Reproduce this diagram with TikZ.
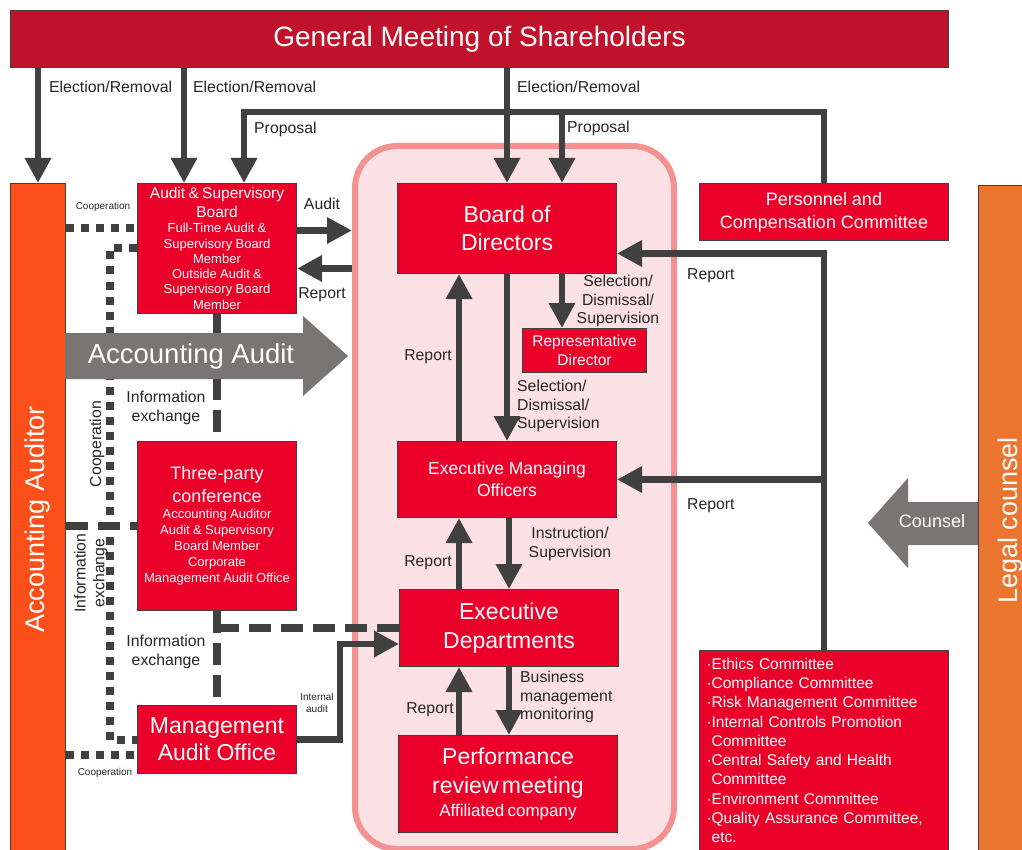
\documentclass[tikz,border=0pt]{standalone}
\usepackage{fontspec}
\setmainfont{Liberation Sans}
\usetikzlibrary{arrows.meta}

\definecolor{boxred}{RGB}{234,0,41}
\definecolor{gmsred}{RGB}{193,18,44}
\definecolor{aaorange}{RGB}{252,79,26}
\definecolor{lcorange}{RGB}{235,116,47}
\definecolor{arrowgray}{RGB}{122,117,117}
\definecolor{linegray}{RGB}{64,64,64}
\definecolor{pinkfill}{RGB}{251,224,228}
\definecolor{pinkline}{RGB}{244,145,145}

\newcommand\fsz[2]{\fontsize{#1}{#2}\selectfont}

\tikzset{
  box/.style={draw=black!75, line width=1pt, fill=boxred, text=white, align=center, inner sep=2pt, anchor=north west},
  panel/.style={draw=pinkline, fill=pinkfill, line width=6pt, rounded corners=42pt, inner sep=0pt, anchor=north west},
  arr/.style={draw=linegray, line width=6.5pt, -{Triangle[width=25pt,length=25pt]}},
  infoline/.style={draw=linegray, line width=8pt, dash pattern=on 22pt off 10pt},
  coopline/.style={draw=linegray, line width=8pt, dash pattern=on 8pt off 7pt},
  lbl/.style={font=\fsz{15.8}{18.8}, text=black!85, inner sep=1pt, align=center},
  tinylbl/.style={font=\fsz{10}{12.5}, text=black!85, inner sep=1pt, align=center}
}

\begin{document}
\begin{tikzpicture}[x=1pt,y=-1pt]
  \useasboundingbox (0,0) rectangle (1022,850);
  \fill[white] (0,0) rectangle (1022,850);

  \node[panel, minimum width=319pt, minimum height=703pt] (group) at (352,143) {};

  \node[box, fill=gmsred, minimum width=938pt, minimum height=57pt, font=\fsz{28}{32}] (gms) at (10,10) {General Meeting of Shareholders};
  \node[box, fill=aaorange, minimum width=55pt, minimum height=672pt, font=\fsz{27}{32}] (aa) at (10,183) {\rotatebox{90}{Accounting Auditor}};
  \node[box, fill=lcorange, minimum width=64pt, minimum height=670pt, font=\fsz{27}{32}] (lc) at (978,185) {\rotatebox{90}{Legal counsel}};

  \node[box, text width=155pt, minimum height=130pt, inner ysep=0pt] (asb) at (137,183)
    {{\fsz{15.5}{18.5}Audit \& Supervisory\\Board\par}{\fsz{13}{15.3}Full-Time Audit \&\\Supervisory Board\\Member\\Outside Audit \&\\Supervisory Board\\Member\par}};
  \node[box, text width=155pt, minimum height=169pt] (tpc) at (137,441)
    {{\fsz{18}{23}Three-party\\conference\par}{\fsz{13}{16}Accounting Auditor\\Audit \& Supervisory\\Board Member\\Corporate\\Management Audit Office\par}};
  \node[box, minimum width=159pt, minimum height=68pt, font=\fsz{23}{27}] (mao) at (137,705) {Management\\Audit Office};

  \node[box, minimum width=219pt, minimum height=90pt, font=\fsz{23}{28}] (bod) at (397,183) {Board of\\Directors};
  \node[box, minimum width=124pt, minimum height=44pt, font=\fsz{15.5}{19}] (rep) at (522,328) {Representative\\Director};
  \node[box, minimum width=219pt, minimum height=76pt, font=\fsz{17.5}{22}] (emo) at (397,441) {Executive Managing\\Officers};
  \node[box, minimum width=219pt, minimum height=77pt, font=\fsz{23}{29}] (exd) at (399,589) {Executive\\Departments};
  \node[box, text width=215pt, minimum height=97pt] (prm) at (398,735)
    {{\fsz{23}{29}Performance\\review meeting\par}{\fsz{17}{23}Affiliated company\par}};

  \node[box, minimum width=249pt, minimum height=57pt, font=\fsz{18}{23}] (pcc) at (699,183) {Personnel and\\Compensation Committee};
  \node[box, text width=235pt, inner xsep=7pt, minimum height=200pt, align=left, font=\fsz{15.5}{19.3}] (com) at (699,650)
    {·Ethics Committee\\·Compliance Committee\\·Risk Management Committee\\·Internal Controls Promotion\\\phantom{·}Committee\\·Central Safety and Health\\\phantom{·}Committee\\·Environment Committee\\·Quality Assurance Committee,\\\phantom{·}etc.};

  \coordinate (coopa) at ([yshift=20pt]asb.west);
  \coordinate (coopb) at ([yshift=-15pt]mao.west);
  \coordinate (coopx) at (110,0);
  \draw[coopline] (aa.east |- coopa) -- (coopa);
  \draw[coopline] (asb.west) -| (coopx |- mao.west) -- (mao.west);
  \draw[coopline] (aa.east |- coopb) -- (coopb);
  \draw[infoline] (aa.east |- tpc.west) -- (tpc.west);
  \draw[infoline] (asb.south) -- (tpc.north);
  \draw[infoline] (tpc.south) -- (mao.north);
  \draw[infoline] (tpc.south |- exd.west) -- (exd.west);

  \fill[arrowgray] (65,333) -- (303,333) -- (303,316) -- (348,356) -- (303,396) -- (303,379) -- (65,379) -- cycle;
  \node[font=\fsz{27.5}{32}, text=white] (accaudit) at (191,356) {Accounting Audit};
  \fill[arrowgray] (978,502) -- (908,502) -- (908,478) -- (868,523) -- (908,568) -- (908,545) -- (978,545) -- cycle;
  \node[font=\fsz{18}{22}, text=white] (counsel) at (932,521) {Counsel};

  \coordinate (asbin) at ([xshift=-33pt]asb.north);
  \coordinate (prop) at (244,112);
  \coordinate (prop2) at (562,112);
  \draw[arr] (gms.south -| aa.north) -- (aa.north);
  \draw[arr] (gms.south -| asbin) -- (asbin);
  \draw[arr] (gms.south -| bod.north) -- (bod.north);
  \draw[arr] (pcc.north) |- (prop) -- (prop |- asb.north);
  \draw[arr] (prop2) -- (prop2 |- bod.north);

  \coordinate (auy) at ([yshift=18pt]asb.east);
  \coordinate (rpy) at ([yshift=-20pt]asb.east);
  \draw[arr] (auy) -- (auy -| group.west);
  \draw[arr] (rpy -| group.west) -- (rpy);

  \coordinate (iax) at (340,0);
  \coordinate (iain) at ([yshift=-16pt]exd.west);
  \draw[arr] (mao.east) -| (iax |- iain) -- (iain);

  \coordinate (bodr) at ([xshift=55pt]bod.south);
  \coordinate (emol) at ([xshift=-48pt]emo.north);
  \coordinate (exdl) at ([xshift=-50pt]exd.north);
  \coordinate (prml) at ([xshift=-49pt]prm.north);
  \draw[arr] (bod.south) -- (emo.north);
  \draw[arr] (emol) -- (emol |- bod.south);
  \draw[arr] (bodr) -- (bodr |- rep.north);
  \draw[arr] (emo.south -| exd.north) -- (exd.north);
  \draw[arr] (exdl) -- (exdl |- emo.south);
  \draw[arr] (exd.south) -- (exd.south |- prm.north);
  \draw[arr] (prml) -- (prml |- exd.south);

  \coordinate (bodin) at ([yshift=-25pt]bod.east);
  \draw[arr] (com.north) |- (bodin);
  \draw[arr] (com.north |- emo.east) -- (emo.east);

  \node[lbl, anchor=west] (er1) at (48,87) {Election/Removal};
  \node[lbl, anchor=west] (er2) at (192,87) {Election/Removal};
  \node[lbl, anchor=west] (er3) at (516,87) {Election/Removal};
  \node[lbl, anchor=west] (pr1) at (253,129) {Proposal};
  \node[lbl, anchor=west] (pr2) at (566,128) {Proposal};
  \node[lbl] (lau) at (322,204) {Audit};
  \node[lbl] (lrp1) at (322,295) {Report};
  \node[tinylbl] (lco1) at (103,207) {Cooperation};
  \node[lbl, rotate=90] (lco2) at (97,444) {Cooperation};
  \node[lbl] (lie1) at (166,408) {Information\\exchange};
  \node[lbl, rotate=90] (lie2) at (91,573) {Information\\exchange};
  \node[lbl] (lie3) at (166,652) {Information\\exchange};
  \node[tinylbl] (lco3) at (105,773) {Cooperation};
  \node[tinylbl] (lia) at (317,703) {Internal\\audit};
  \node[lbl] (lrp2) at (428,357) {Report};
  \node[lbl] (lsd1) at (618,301) {Selection/\\Dismissal/\\Supervision};
  \node[lbl, align=left, anchor=west] (lsd2) at (516,406) {Selection/\\Dismissal/\\Supervision};
  \node[lbl] (lis) at (570,544) {Instruction/\\Supervision};
  \node[lbl] (lrp3) at (428,563) {Report};
  \node[lbl, align=left, anchor=west] (lbm) at (519,697) {Business\\management\\monitoring};
  \node[lbl] (lrp4) at (430,710) {Report};
  \node[lbl, anchor=west] (lrp5) at (686,276) {Report};
  \node[lbl, anchor=west] (lrp6) at (686,506) {Report};
\end{tikzpicture}
\end{document}
